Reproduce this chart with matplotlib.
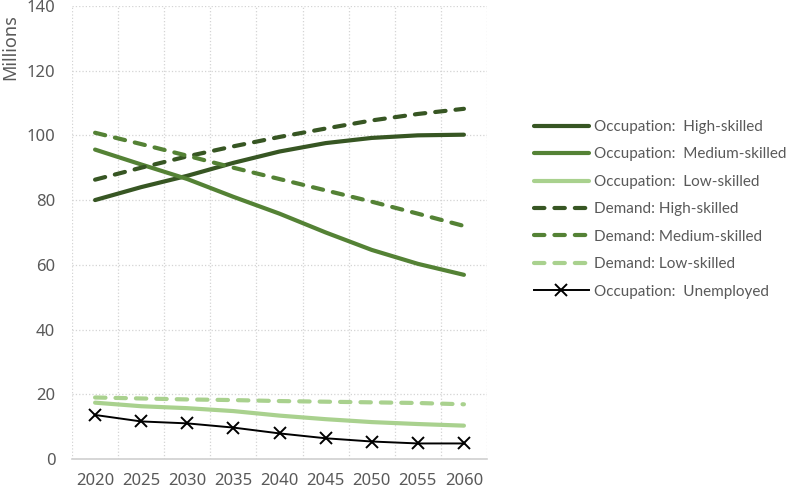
import numpy as np
import matplotlib.pyplot as plt
from matplotlib.ticker import MultipleLocator

years = ['2020', '2025', '2030', '2035', '2040', '2045', '2050', '2055', '2060']

occ_high = [80.0, 84.0, 87.5, 91.5, 95.0, 97.6, 99.2, 100.0, 100.2]
occ_medium = [95.6, 91.0, 86.5, 81.0, 75.8, 70.0, 64.6, 60.3, 56.9]
occ_low = [17.4, 16.3, 15.7, 14.8, 13.4, 12.3, 11.4, 10.8, 10.3]
dem_high = [86.3, 90.0, 93.5, 96.6, 99.5, 102.1, 104.6, 106.6, 108.2]
dem_medium = [100.8, 97.3, 93.7, 90.0, 86.5, 83.0, 79.5, 75.8, 72.0]
dem_low = [19.0, 18.7, 18.4, 18.2, 17.9, 17.7, 17.5, 17.3, 16.9]
unemployed = [13.6, 11.6, 11.0, 9.7, 7.9, 6.4, 5.4, 4.8, 4.8]

dark = '#375623'
mid = '#548235'
light = '#a9d18e'
txt = '#595959'

plt.rcParams['font.family'] = ['Lato', 'DejaVu Sans']

fig = plt.figure(figsize=(7.88, 4.90), dpi=100)
ax = fig.add_axes([0.0914, 0.0633, 0.5266, 0.9247])

x = np.arange(len(years))
dash = (0, (2.5, 2.4))
ax.plot(x, occ_high, color=dark, lw=3.0, solid_capstyle='round', label='Occupation:  High-skilled')
ax.plot(x, occ_medium, color=mid, lw=3.0, solid_capstyle='round', label='Occupation:  Medium-skilled')
ax.plot(x, occ_low, color=light, lw=3.0, solid_capstyle='round', label='Occupation:  Low-skilled')
ax.plot(x, dem_high, color=dark, lw=3.0, ls=dash, dash_capstyle='round', label='Demand: High-skilled')
ax.plot(x, dem_medium, color=mid, lw=3.0, ls=dash, dash_capstyle='round', label='Demand: Medium-skilled')
ax.plot(x, dem_low, color=light, lw=3.0, ls=dash, dash_capstyle='round', label='Demand: Low-skilled')
ax.plot(x, unemployed, color='black', lw=1.4, marker='x', ms=8, mew=1.4, label='Occupation:  Unemployed')

ax.set_xlim(-0.5, len(years) - 0.5)
ax.set_ylim(0, 140)
ax.set_xticks(x)
ax.set_xticklabels(years)
ax.set_xticks(np.arange(-0.5, len(years)), minor=True)
ax.yaxis.set_major_locator(MultipleLocator(20))
ax.grid(which='minor', axis='x', color='#d4d4d4', ls=':', lw=0.9)
ax.grid(which='major', axis='y', color='#d4d4d4', ls=':', lw=0.9)
ax.tick_params(which='both', length=0, colors=txt, labelsize=12,
               labelfontfamily='Noto Sans')
ax.tick_params(axis='x', pad=10)
ax.tick_params(axis='y', pad=12)
for s in ['top', 'right', 'left']:
    ax.spines[s].set_visible(False)
ax.spines['bottom'].set_color('#d0d0d0')
ax.spines['bottom'].set_linewidth(1.2)
ax.set_ylabel('Millions', color=txt, fontsize=13, family=['Noto Sans', 'DejaVu Sans'])
ax.yaxis.set_label_coords(-0.128, 0.91)

leg = ax.legend(loc='center left', bbox_to_anchor=(1.08, 0.551), frameon=False,
                fontsize=11, handlelength=3.6, handletextpad=0.3, labelspacing=0.88,
                labelcolor=txt)

fig.savefig('out.png', dpi=100)
